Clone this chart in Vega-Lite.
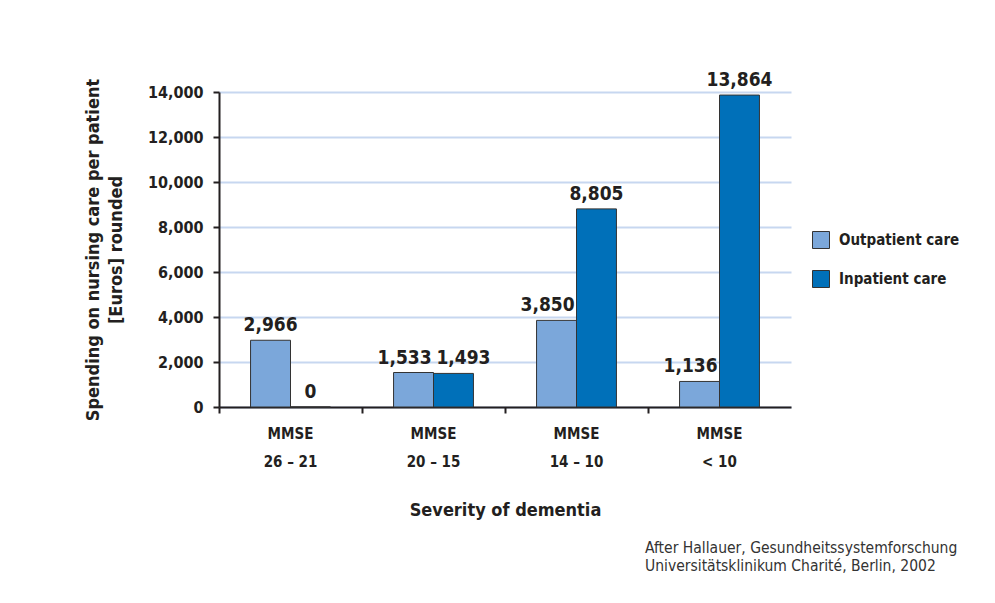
{
  "$schema": "https://vega.github.io/schema/vega-lite/v6.json",
  "width": 572,
  "height": 315,
  "autosize": {"type": "none"},
  "padding": {"left": 219, "top": 92, "right": 204, "bottom": 196},
  "background": "white",
  "config": {
    "font": "DejaVu Sans Condensed, DejaVu Sans, sans-serif",
    "view": {"stroke": null}
  },
  "title": {
    "text": ["After Hallauer, Gesundheitssystemforschung", "Universitätsklinikum Charité, Berlin, 2002"],
    "orient": "bottom",
    "anchor": "start",
    "frame": "group",
    "align": "left",
    "dx": 426,
    "offset": 22,
    "fontSize": 15.5,
    "fontWeight": "normal",
    "lineHeight": 18,
    "color": "#333333"
  },
  "data": {
    "values": [
      {"severity": "MMSE|26 – 21", "care": "Outpatient care", "value": 2966},
      {"severity": "MMSE|26 – 21", "care": "Inpatient care", "value": 0},
      {"severity": "MMSE|20 – 15", "care": "Outpatient care", "value": 1533},
      {"severity": "MMSE|20 – 15", "care": "Inpatient care", "value": 1493},
      {"severity": "MMSE|14 – 10", "care": "Outpatient care", "value": 3850},
      {"severity": "MMSE|14 – 10", "care": "Inpatient care", "value": 8805},
      {"severity": "MMSE|< 10", "care": "Outpatient care", "value": 1136},
      {"severity": "MMSE|< 10", "care": "Inpatient care", "value": 13864}
    ]
  },
  "encoding": {
    "x": {
      "field": "severity",
      "type": "nominal",
      "sort": null,
      "scale": {"paddingInner": 0, "paddingOuter": 0},
      "axis": {
        "title": "Severity of dementia",
        "titleFontSize": 18,
        "titleFontWeight": "bold",
        "titleColor": "#231f20",
        "titlePadding": 32,
        "labelExpr": "split(datum.value, '|')",
        "labelAngle": 0,
        "labelFontSize": 15,
        "labelFontWeight": "bold",
        "labelColor": "#231f20",
        "labelLineHeight": 28,
        "labelPadding": 13,
        "bandPosition": 0,
        "tickSize": 6,
        "tickWidth": 2,
        "tickColor": "#231f20",
        "domainColor": "#231f20",
        "domainWidth": 2,
        "grid": false
      }
    },
    "xOffset": {
      "field": "care",
      "type": "nominal",
      "sort": ["Outpatient care", "Inpatient care"],
      "scale": {"paddingInner": 0, "paddingOuter": 0.79}
    },
    "y": {
      "field": "value",
      "type": "quantitative",
      "scale": {"domain": [0, 14000], "nice": false},
      "axis": {
        "title": ["Spending on nursing care per patient", "[Euros] rounded"],
        "titleFontSize": 18,
        "titleFontWeight": "bold",
        "titleColor": "#231f20",
        "titleLineHeight": 23,
        "titlePadding": 22,
        "values": [0, 2000, 4000, 6000, 8000, 10000, 12000, 14000],
        "format": ",d",
        "labelFontSize": 16,
        "labelFontWeight": "bold",
        "labelColor": "#231f20",
        "labelPadding": 10,
        "tickSize": 6,
        "tickWidth": 2,
        "tickColor": "#231f20",
        "domainColor": "#231f20",
        "domainWidth": 2,
        "grid": true,
        "gridColor": "#c7d7f0",
        "gridWidth": 2
      }
    }
  },
  "layer": [
    {
      "mark": {"type": "bar", "stroke": "#333333", "strokeWidth": 1},
      "encoding": {
        "color": {
          "field": "care",
          "type": "nominal",
          "sort": ["Outpatient care", "Inpatient care"],
          "scale": {"domain": ["Outpatient care", "Inpatient care"], "range": ["#7ba7da", "#0070b9"]},
          "legend": {
            "title": null,
            "orient": "none",
            "legendX": 593,
            "legendY": 139,
            "symbolType": "square",
            "symbolSize": 289,
            "symbolStrokeColor": "#333333",
            "symbolStrokeWidth": 1,
            "labelFontSize": 15,
            "labelFontWeight": "bold",
            "labelColor": "#231f20",
            "labelOffset": 9,
            "rowPadding": 17
          }
        }
      }
    },
    {
      "transform": [{"filter": "datum.severity == 'MMSE|26 – 21' || (datum.care == 'Inpatient care' && datum.severity != 'MMSE|20 – 15')"}],
      "mark": {"type": "text", "baseline": "alphabetic", "dy": -9, "fontSize": 19, "fontWeight": "bold", "color": "#231f20"},
      "encoding": {
        "text": {"field": "value", "type": "quantitative", "format": ",d"}
      }
    },
    {
      "transform": [{"filter": "datum.severity != 'MMSE|26 – 21' && datum.care == 'Outpatient care'"}],
      "mark": {"type": "text", "baseline": "alphabetic", "dy": -9, "dx": -9, "fontSize": 19, "fontWeight": "bold", "color": "#231f20"},
      "encoding": {
        "text": {"field": "value", "type": "quantitative", "format": ",d"}
      }
    },
    {
      "transform": [{"filter": "datum.severity == 'MMSE|20 – 15' && datum.care == 'Inpatient care'"}],
      "mark": {"type": "text", "baseline": "alphabetic", "dy": -9, "dx": 10, "fontSize": 19, "fontWeight": "bold", "color": "#231f20"},
      "encoding": {
        "text": {"field": "value", "type": "quantitative", "format": ",d"}
      }
    }
  ]
}
